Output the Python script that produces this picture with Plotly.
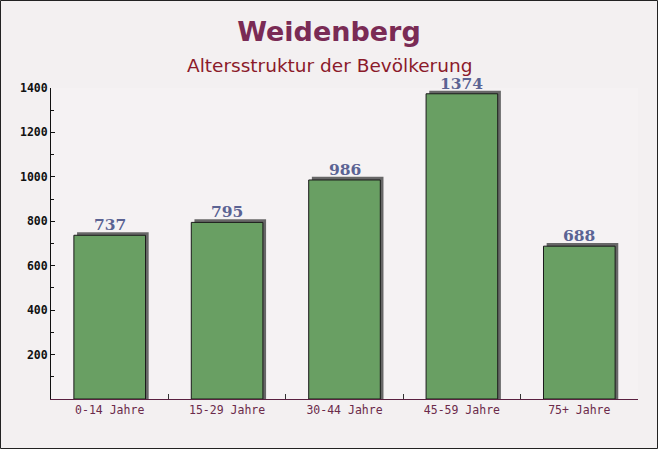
import plotly.graph_objects as go

categories = ["0-14 Jahre", "15-29 Jahre", "30-44 Jahre", "45-59 Jahre", "75+ Jahre"]
values = [737, 795, 986, 1374, 688]
y_ticks = [200, 400, 600, 800, 1000, 1200, 1400]

W, H = 658, 449
ML, MR, MT, MB = 51, 20, 88, 50
PW, PH = W - ML - MR, H - MT - MB

bar_w = 0.61
shadow_dx = 0.027          # category units
shadow_lift = 14           # value units (visual 3d lift)

fig = go.Figure()
fig.add_trace(go.Bar(
    x=categories, y=[v + shadow_lift for v in values],
    width=bar_w, offset=-bar_w / 2 + shadow_dx,
    marker=dict(color="#676767", line=dict(width=0)),
    hoverinfo="skip", showlegend=False,
))
fig.add_trace(go.Bar(
    x=categories, y=values,
    width=bar_w, offset=-bar_w / 2,
    marker=dict(color="#699f63", line=dict(color="#1a1a1a", width=1)),
    cliponaxis=False, showlegend=False,
))

annotations = [dict(
    text="Altersstruktur der Bevölkerung",
    xref="paper", yref="paper", x=0.5 - (ML - MR) / 2 / PW, y=1 + 23 / PH,
    xanchor="center", yanchor="middle", showarrow=False, borderpad=0,
    font=dict(family="DejaVu Sans", size=18.5, color="#8b1a2a"),
)]
for c, v in zip(categories, values):
    annotations.append(dict(
        x=c, y=v, xref="x", yref="y", text=str(v), showarrow=False,
        xanchor="center", yanchor="bottom", yshift=0, borderpad=0,
        font=dict(family="DejaVu Serif", size=15.5, color="#5b6393", weight="bold"),
    ))

fig.update_layout(
    width=W, height=H,
    margin=dict(l=ML, r=MR, t=MT, b=MB),
    paper_bgcolor="#f3f0f1",
    plot_bgcolor="#f5f2f3",
    barmode="overlay",
    title=dict(
        text="<b>Weidenberg</b>",
        x=0.5, xanchor="center", y=1 - 32 / H, yanchor="middle",
        font=dict(family="DejaVu Sans", size=27, color="#7a2b55"),
    ),
    annotations=annotations,
    shapes=[dict(
        type="rect", xref="paper", yref="paper",
        x0=-ML / PW + 0.5 / PW, x1=1 + MR / PW - 0.5 / PW,
        y0=-MB / PH + 0.5 / PH, y1=1 + MT / PH - 0.5 / PH,
        line=dict(color="#222222", width=1), fillcolor="rgba(0,0,0,0)", layer="above",
    )],
    xaxis=dict(
        type="category", range=[-0.5, 4.5],
        tickson="boundaries", ticks="inside", ticklen=5, tickcolor="#333333",
        showline=True, linecolor="#5a2040", linewidth=1,
        showgrid=False, zeroline=False,
        tickfont=dict(family="DejaVu Sans Mono", size=11.5, color="#6b2a4a"),
    ),
    yaxis=dict(
        range=[0, 1400], tickvals=y_ticks,
        ticks="inside", ticklen=4, tickcolor="#111111",
        minor=dict(ticks="inside", dtick=100, ticklen=3, tickcolor="#111111"),
        showline=True, linecolor="#111111", linewidth=1,
        showgrid=False, zeroline=False,
        tickfont=dict(family="DejaVu Sans Mono", size=11.5, color="#111111", weight="bold"),
    ),
)

fig.write_html(
    "out.html",
    config={"displayModeBar": False},
    post_script="document.body.style.margin='0';document.body.style.overflow='hidden';",
)
